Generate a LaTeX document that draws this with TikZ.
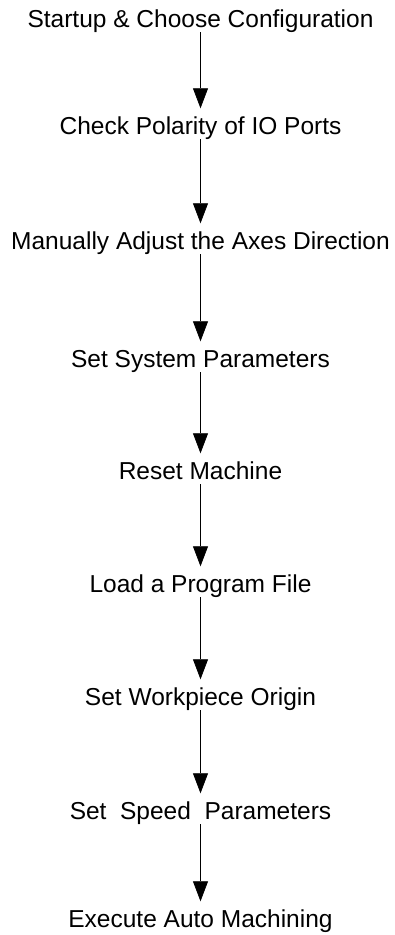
\documentclass[tikz,border=0pt]{standalone}
\usepackage{fontspec}
\setmainfont{Liberation Sans}
\usetikzlibrary{arrows.meta}
\begin{document}
\begin{tikzpicture}[x=1pt,y=-1pt,
  stepnode/.style={anchor=base, inner sep=0pt, text height=17.5pt, text depth=0pt,
    font=\fontsize{24.5}{29}\selectfont},
  flow/.style={draw=black, line width=0.7pt, -{Triangle[length=20pt,width=15pt]},
    shorten <=5pt, shorten >=8pt}]
\fill[white] (0,0) rectangle (394,935);
\useasboundingbox (0,0) rectangle (394,935);
\node[stepnode] (s1) at (200.5,27) {Startup \& Choose Configuration};
\node[stepnode] (s2) at (200.5,134) {Check Polarity of IO Ports};
\node[stepnode] (s3) at (200.5,249) {Manually Adjust the Axes Direction};
\node[stepnode] (s4) at (200.5,367) {Set System Parameters};
\node[stepnode] (s5) at (200.5,479) {Reset Machine};
\node[stepnode] (s6) at (200.5,592) {Load a Program File};
\node[stepnode] (s7) at (200.5,705) {Set Workpiece Origin};
\node[stepnode] (s8) at (200.5,819) {Set~~Speed~~Parameters};
\node[stepnode] (s9) at (200.5,927) {Execute Auto Machining};
\draw[flow] (s1.south) -- (s2.north);
\draw[flow] (s2.south) -- (s3.north);
\draw[flow] (s3.south) -- (s4.north);
\draw[flow] (s4.south) -- (s5.north);
\draw[flow] (s5.south) -- (s6.north);
\draw[flow] (s6.south) -- (s7.north);
\draw[flow] (s7.south) -- (s8.north);
\draw[flow] (s8.south) -- (s9.north);
\end{tikzpicture}
\end{document}
